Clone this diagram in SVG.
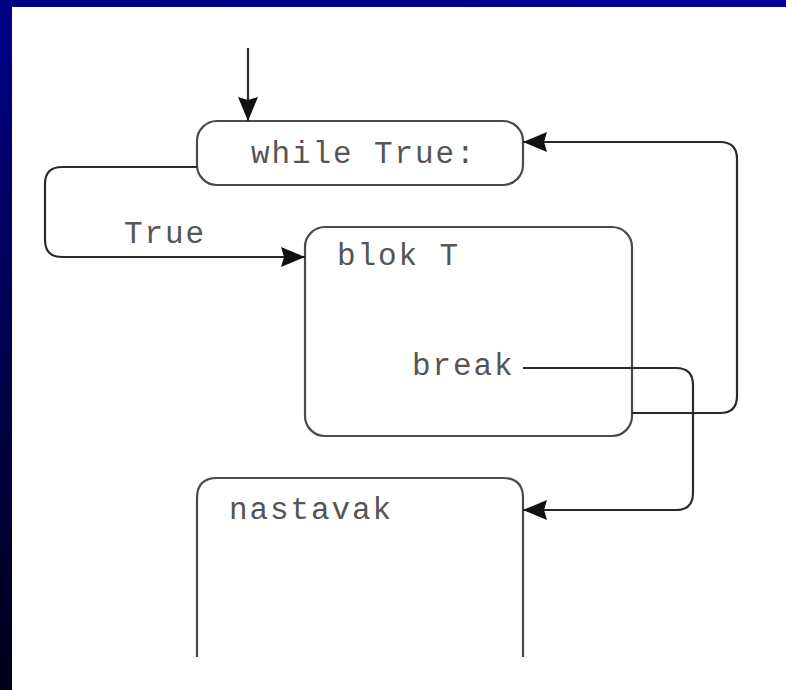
<svg xmlns="http://www.w3.org/2000/svg" width="786" height="690" viewBox="0 0 786 690">
  <defs>
    <linearGradient id="sideBand" x1="0" y1="0" x2="0" y2="1">
      <stop offset="0" stop-color="#000088"/>
      <stop offset="1" stop-color="#000018"/>
    </linearGradient>
    <linearGradient id="topBand" x1="0" y1="0" x2="1" y2="0">
      <stop offset="0" stop-color="#000080"/>
      <stop offset="1" stop-color="#00009c"/>
    </linearGradient>
    <marker id="arrow" viewBox="0 0 24 20" refX="24" refY="10" markerWidth="24" markerHeight="20" markerUnits="userSpaceOnUse" orient="auto">
      <path d="M0,0 L24,10 L0,20 L3,10 z" fill="#111"/>
    </marker>
    <style>
      .box { fill: none; stroke: #4a4a4a; stroke-width: 2.2; }
      .wire { fill: none; stroke: #2a2a2a; stroke-width: 2.2; }
      .arrowed { marker-end: url(#arrow); }
      .code { font-family: "Liberation Mono", "Courier New", monospace; font-size: 31px; letter-spacing: 1.9px; fill: #555; }
    </style>
  </defs>

  <!-- page background with slide frame -->
  <rect x="0" y="0" width="786" height="690" fill="#ffffff"/>
  <rect x="0" y="0" width="786" height="7" fill="url(#topBand)"/>
  <rect x="0" y="0" width="12" height="690" fill="url(#sideBand)"/>

  <!-- loop header -->
  <g id="while">
    <rect class="box" x="197" y="121" width="326" height="64" rx="20" ry="20"/>
    <text class="code" x="251" y="163">while True:</text>
  </g>

  <!-- loop body -->
  <g id="blokT">
    <rect class="box" x="305" y="227" width="327" height="209" rx="20" ry="20"/>
    <text class="code" x="337" y="265">blok T</text>
    <text class="code" x="412" y="375">break</text>
  </g>

  <!-- code after the loop (open at the bottom) -->
  <g id="nastavak">
    <path class="box" d="M197,657 V498 Q197,478 217,478 H503 Q523,478 523,498 V657"/>
    <text class="code" x="229" y="519">nastavak</text>
  </g>

  <!-- control-flow connectors -->
  <g id="connectors">
    <path class="wire arrowed" d="M248,48 V121"/>
    <path class="wire arrowed" d="M197,167 H62 Q45,167 45,184 V240 Q45,257 62,257 H305"/>
    <text class="code" x="124" y="243">True</text>
    <path class="wire arrowed" d="M632,413 H720 Q737,413 737,396 V159 Q737,142 720,142 H523"/>
    <path class="wire arrowed" d="M523,368 H676 Q693,368 693,385 V493 Q693,510 676,510 H523"/>
  </g>
</svg>
